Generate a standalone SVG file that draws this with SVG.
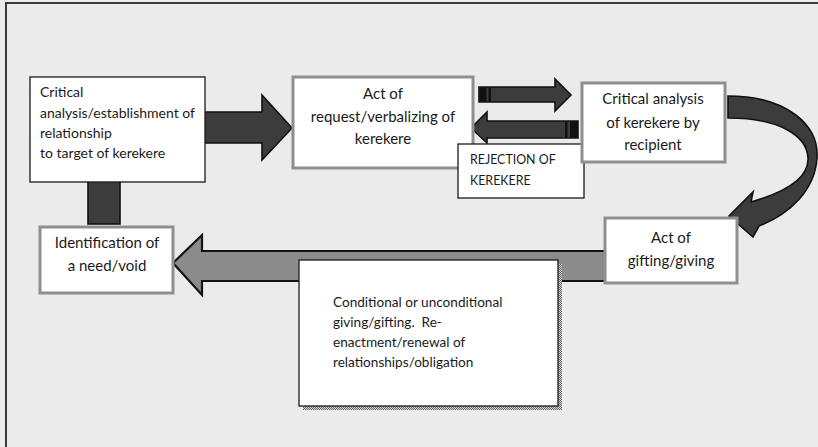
<svg xmlns="http://www.w3.org/2000/svg" width="818" height="447" viewBox="0 0 818 447">
<defs>
<style>
.t{font-family:Lato,"Open Sans","Liberation Sans",sans-serif;fill:#1a1a1a}
.n15{font-size:14px}
.n16{font-size:15px}
.n14{font-size:13.6px}
.n12{font-size:12.4px}
.thin{fill:#fff;stroke:#1a1a1a;stroke-width:1.3}
.gray{fill:#fff;stroke:#8f8f8f;stroke-width:3}
.dark{fill:#3c3c3c;stroke:#111;stroke-width:1.6;stroke-linejoin:miter}
.mid{fill:#8b8b8b;stroke:#111;stroke-width:2.2}
</style>
<pattern id="dots" width="2" height="2" patternUnits="userSpaceOnUse">
<rect width="2" height="2" fill="#d0d0d0"/>
<rect width="1" height="1" fill="#6a6a6a"/>
<rect x="1" y="1" width="1" height="1" fill="#6a6a6a"/>
</pattern>
</defs>
<rect width="818" height="447" fill="#ebebeb"/>
<path d="M6,447 V3 H818" fill="none" stroke="#3a3a3a" stroke-width="2"/>

<g id="connectors">
<polygon class="dark" points="204,112 262,112 262,95 292,128 262,160 262,143 204,143"/>
<rect class="dark" x="88" y="181" width="32" height="43"/>
<g id="to-recipient">
<polygon class="dark" points="479,87 555,87 555,79 571,95 555,111 555,102 479,102"/>
<rect x="479.5" y="87.5" width="7" height="14" fill="#111"/>
<rect x="488.5" y="87.5" width="2.5" height="14" fill="#111"/>
</g>
<g id="rejection-arrow">
<polygon class="dark" points="471,128 487,112 487,121 578,121 578,138 487,138 487,143"/>
<rect x="570" y="121.5" width="7.5" height="16" fill="#111"/>
<rect x="565" y="121.5" width="2.5" height="16" fill="#111"/>
</g>
<path class="dark" d="M728,96 C788,96 819,126 817,158 C815,190 790,214 759,226 L753,237 L729,216 L753,192 L751,202 C786,192 809,178 808,158 C807,136 780,118 728,118 Z"/>
<polygon class="mid" points="173,263 202,235 202,251 607,251 607,281 202,281 202,295"/>
</g>

<g id="node-analysis">
<rect class="thin" x="30" y="77" width="175" height="105"/>
<text class="t n15" x="40" y="97">Critical</text>
<text class="t n15" x="40" y="118">analysis/establishment of</text>
<text class="t n15" x="40" y="138">relationship</text>
<text class="t n15" x="40" y="158">to target of kerekere</text>
</g>

<g id="node-need">
<rect class="gray" x="40" y="227" width="133" height="66"/>
<text class="t n16" x="107" y="248" text-anchor="middle">Identification of</text>
<text class="t n16" x="107" y="271" text-anchor="middle">a need/void</text>
</g>

<g id="node-request">
<rect class="gray" x="293" y="77" width="180" height="91"/>
<text class="t n16" x="383" y="99" text-anchor="middle">Act of</text>
<text class="t n16" x="383" y="122" text-anchor="middle">request/verbalizing of</text>
<text class="t n16" x="383" y="144" text-anchor="middle">kerekere</text>
</g>

<g id="node-rejection">
<rect class="thin" x="458" y="144" width="126" height="54"/>
<text class="t n12" x="470" y="164">REJECTION OF</text>
<text class="t n12" x="470" y="185">KEREKERE</text>
</g>

<g id="node-recipient">
<rect class="gray" x="582" y="83" width="143" height="79"/>
<text class="t n16" x="653" y="104" text-anchor="middle">Critical analysis</text>
<text class="t n16" x="653" y="128" text-anchor="middle">of kerekere by</text>
<text class="t n16" x="653" y="150" text-anchor="middle">recipient</text>
</g>

<g id="node-gifting">
<rect class="gray" x="605" y="218" width="132" height="65"/>
<text class="t n16" x="671" y="243" text-anchor="middle">Act of</text>
<text class="t n16" x="671" y="266" text-anchor="middle">gifting/giving</text>
</g>

<g id="node-conditional">
<rect x="303" y="264" width="259" height="146" fill="url(#dots)"/>
<rect class="thin" x="299" y="260" width="259" height="146"/>
<text class="t n14" x="333" y="307">Conditional or unconditional</text>
<text class="t n14" x="333" y="327" xml:space="preserve">giving/gifting.  Re-</text>
<text class="t n14" x="333" y="347">enactment/renewal of</text>
<text class="t n14" x="333" y="367">relationships/obligation</text>
</g>
</svg>
